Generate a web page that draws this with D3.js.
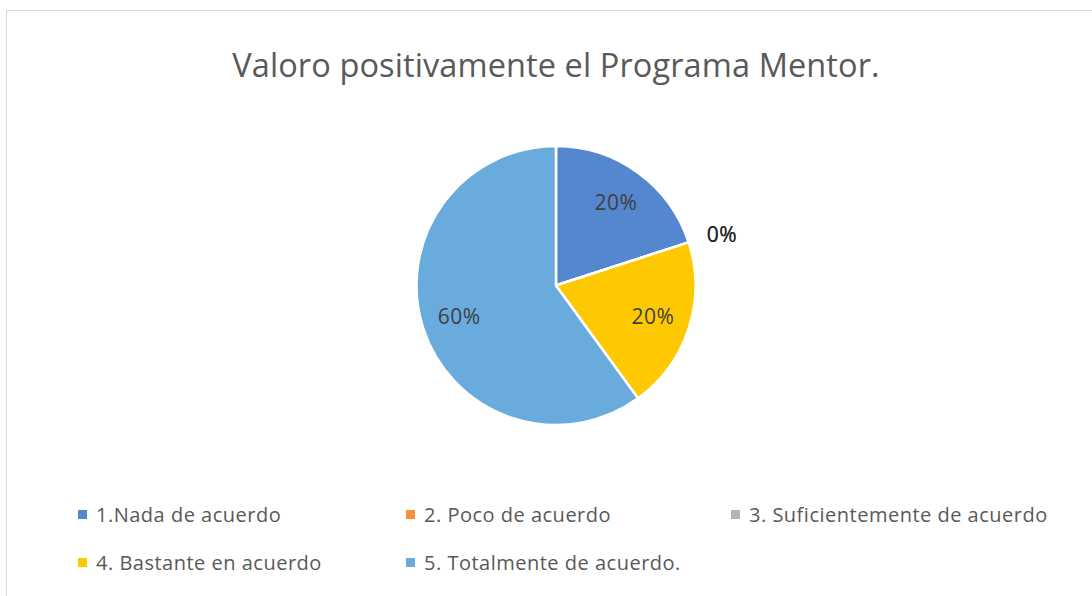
<!DOCTYPE html>
<html><head><meta charset="utf-8">
<script src="https://cdn.jsdelivr.net/npm/d3@7"></script>
<style>body{margin:0;background:#fff}svg{display:block}</style>
</head><body>
<script>
const categories = ["1.Nada de acuerdo","2. Poco de acuerdo","3. Suficientemente de acuerdo","4. Bastante en acuerdo","5. Totalmente de acuerdo."];
const values = [0.2, 0, 0, 0.2, 0.6];
const colors = ["#5587CF","#F5913E","#B4B4B4","#FFC901","#6AABDD"];
const title = "Valoro positivamente el Programa Mentor.";

const W=1092,H=596;
const svg=d3.select("body").append("svg").attr("width",W).attr("height",H);
svg.append("rect").attr("x",6.5).attr("y",10.5).attr("width",W).attr("height",H).attr("fill","#fff").attr("stroke","#d9d9d9");
const font="'Open Sans', sans-serif";
svg.append("text").attr("x",556).attr("y",77).attr("text-anchor","middle")
  .attr("font-family",font).attr("font-size",32.5).attr("letter-spacing",0.1).attr("fill","#595959").text(title);

const cx=556,cy=285.5,r=139.5;
const pie=d3.pie().sort(null).value(d=>d)(values);
const arc=d3.arc().innerRadius(0).outerRadius(r);
const g=svg.append("g").attr("transform",`translate(${cx},${cy})`);
g.selectAll("path").data(pie).join("path").attr("d",arc)
  .attr("fill",(d,i)=>colors[i]).attr("stroke","#fff").attr("stroke-width",2.5);
const inArc=d3.arc().innerRadius(r*0.73).outerRadius(r*0.73);
const outArc=d3.arc().innerRadius(r*1.25).outerRadius(r*1.25);
g.selectAll("text.lab").data(pie).join("text").attr("class","lab")
  .attr("transform",d=>`translate(${(d.value>0?inArc:outArc).centroid(d)})`)
  .attr("text-anchor","middle").attr("dy",d=>d.value>0?"0.35em":"0.5em")
  .attr("font-family",font).attr("font-size",21).attr("letter-spacing",0.4)
  .attr("fill",d=>d.value>0?"#404040":"#262626")
  .text(d=>d3.format(".0%")(d.value));

const lx=[78,406,731], ly=[515,563];
const leg=svg.append("g");
categories.forEach((c,i)=>{
  const x=lx[i%3], y=ly[Math.floor(i/3)];
  leg.append("rect").attr("x",x).attr("y",y-5).attr("width",9).attr("height",9).attr("fill",colors[i]);
  leg.append("text").attr("x",x+18).attr("y",y).attr("dy","0.35em")
    .attr("font-family",font).attr("font-size",20).attr("letter-spacing",0.5).attr("fill","#595959").text(c);
});
</script>
</body></html>
